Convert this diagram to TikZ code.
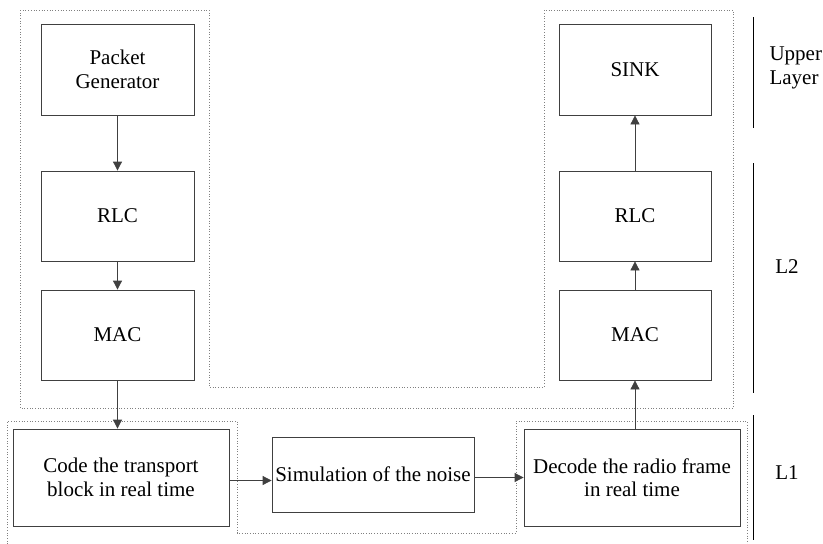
\documentclass[tikz,border=0pt]{standalone}
\usepackage{fontspec}
\setmainfont{Liberation Serif}
\setsansfont{Liberation Serif}
\usetikzlibrary{arrows.meta}
\tikzset{
	block/.style={draw=black!75, line width=0.8pt, align=center, inner sep=0pt, font=\rmfamily\fontsize{21}{23.5}\selectfont},
	flow/.style={draw=black!75, line width=0.8pt, -{Triangle[length=9pt,width=9pt]}},
	group/.style={draw=black!50, line width=0.7pt, dotted},
	layer/.style={draw=black, line width=0.9pt},
	tag/.style={font=\rmfamily\fontsize{21}{23.5}\selectfont},
}

\begin{document}
\begin{tikzpicture}[x=1pt, y=-1pt]
		%%%%% START %%%%%
		\useasboundingbox (0, 0) rectangle (823, 544);
		
		\draw[group] (20, 10) -- (209, 10) -- (209, 387) -- (544, 387) -- (544, 10) -- (733, 10) -- (733, 408) -- (20, 408) -- cycle;
		\draw[group] (7, 544) -- (7, 421) -- (237, 421) -- (237, 533) -- (516, 533) -- (516, 421) -- (747, 421) -- (747, 544);
		
		\node[block, minimum width=153pt, minimum height=91pt] (gen) at (117.5, 69.5) {Packet\\Generator};
		\node[block, minimum width=153pt, minimum height=90pt] (rlcTx) at (117.5, 216) {RLC};
		\node[block, minimum width=153pt, minimum height=90pt] (macTx) at (117.5, 335) {MAC};
		
		\node[block, minimum width=152pt, minimum height=91pt] (sink) at (635, 69.5) {SINK};
		\node[block, minimum width=152pt, minimum height=90pt] (rlcRx) at (635, 216) {RLC};
		\node[block, minimum width=152pt, minimum height=90pt] (macRx) at (635, 335) {MAC};
		
		\node[block, minimum width=216pt, minimum height=97pt] (code) at (121, 477.5) {Code the transport\\block in real time};
		\node[block, minimum width=202pt, minimum height=75pt] (noise) at (373, 474.5) {Simulation of the noise};
		\node[block, minimum width=216pt, minimum height=97pt] (decode) at (632, 477.5) {Decode the radio frame\\in real time};
		
		\draw[flow] (gen) -- (rlcTx);
		\draw[flow] (rlcTx) -- (macTx);
		\draw[flow] (macTx) -- (macTx |- code.north);
		\draw[flow] ([yshift=-3pt]code.east) -- ([yshift=-3pt]code.east -| noise.west);
		\draw[flow] ([yshift=-3pt]noise.east) -- ([yshift=-3pt]noise.east -| decode.west);
		\draw[flow] (decode.north -| macRx) -- (macRx);
		\draw[flow] (macRx) -- (rlcRx);
		\draw[flow] (rlcRx) -- (sink);
		
		\draw[layer] (753, 17) -- (753, 128);
		\draw[layer] (753, 163) -- (753, 393);
		\draw[layer] (753, 415) -- (753, 540);
		
		\node[tag, align=left, anchor=west] (upper) at (766, 68) {Upper\\Layer};
		\node[tag] (ltwo) at (787, 267) {L2};
		\node[tag] (lone) at (787, 473) {L1};
		
		%%%%% END %%%%%
	\end{tikzpicture}
\end{document}
